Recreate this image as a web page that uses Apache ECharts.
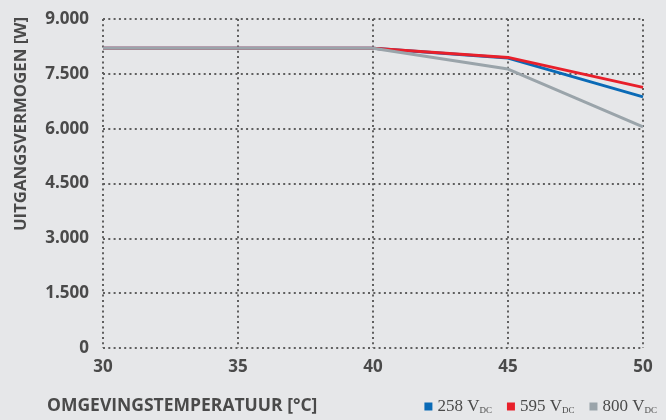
<!DOCTYPE html>
<html><head><meta charset="utf-8">
<script src="https://cdn.jsdelivr.net/npm/echarts@6/dist/echarts.min.js"></script>
<style>html,body{margin:0;padding:0;background:#e6e7e9}#c{width:666px;height:420px}</style>
</head><body><div id="c"></div>
<script>
const temps = [30, 35, 40, 45, 50];
const v258 = [8200, 8200, 8200, 7930, 6870];
const v595 = [8200, 8200, 8200, 7950, 7130];
const v800 = [8200, 8200, 8200, 7630, 6050];
const seriesNames = ['258', '595', '800'];
const colors = ['#0a6ab6', '#e8202b', '#9aa4aa'];

const chart = echarts.init(document.getElementById('c'));
const dot = {color: '#5f5f5f', width: 2, type: [2, 3.3]};
const mk = (name, data, color) => ({
  name, type: 'line', data: temps.map((t, i) => [t, data[i]]),
  symbol: 'none', lineStyle: {color, width: 3}, itemStyle: {color}
});
const txt = '#4a4a4a';
chart.setOption({
  backgroundColor: '#e6e7e9',
  animation: false,
  textStyle: {fontFamily: 'Open Sans'},
  grid: {left: 103, right: 23, top: 19, bottom: 72, outerBoundsMode: 'none', containLabel: false},
  xAxis: {
    type: 'value', min: 30, max: 50, interval: 5,
    axisLine: {show: false}, axisTick: {show: false},
    splitLine: {show: true, lineStyle: dot},
    axisLabel: {color: txt, fontWeight: 'bold', fontSize: 17, margin: 11}
  },
  yAxis: {
    type: 'value', min: 0, max: 9000, interval: 1500,
    axisLine: {show: false}, axisTick: {show: false},
    splitLine: {show: true, lineStyle: dot},
    axisLabel: {color: txt, fontWeight: 'bold', fontSize: 17, margin: 14,
      formatter: v => v.toLocaleString('de-DE')}
  },
  graphic: [{
    type: 'text', left: 47, top: 397,
    style: {text: 'OMGEVINGSTEMPERATUUR [°C]', fill: txt,
      font: 'bold 17.5px "Open Sans"'}
  }, {
    type: 'text', x: 21, y: 124, rotation: Math.PI / 2,
    style: {text: 'UITGANGSVERMOGEN [W]', fill: txt, align: 'center', verticalAlign: 'middle',
      font: 'bold 16.8px "Open Sans"'}
  }],
  legend: {
    right: 4, bottom: 0, itemWidth: 8, itemHeight: 8, itemGap: 15,
    icon: 'rect',
    data: seriesNames,
    formatter: n => `{a|${n} V}{b|DC}`,
    textStyle: {
      rich: {
        a: {fontFamily: 'Liberation Serif', fontSize: 17, color: txt},
        b: {fontFamily: 'Liberation Serif', fontSize: 9, color: txt, verticalAlign: 'bottom', padding: [8, 0, 0, 0]}
      }
    }
  },
  series: [mk('258', v258, colors[0]), mk('595', v595, colors[1]), mk('800', v800, colors[2])]
});
</script></body></html>
